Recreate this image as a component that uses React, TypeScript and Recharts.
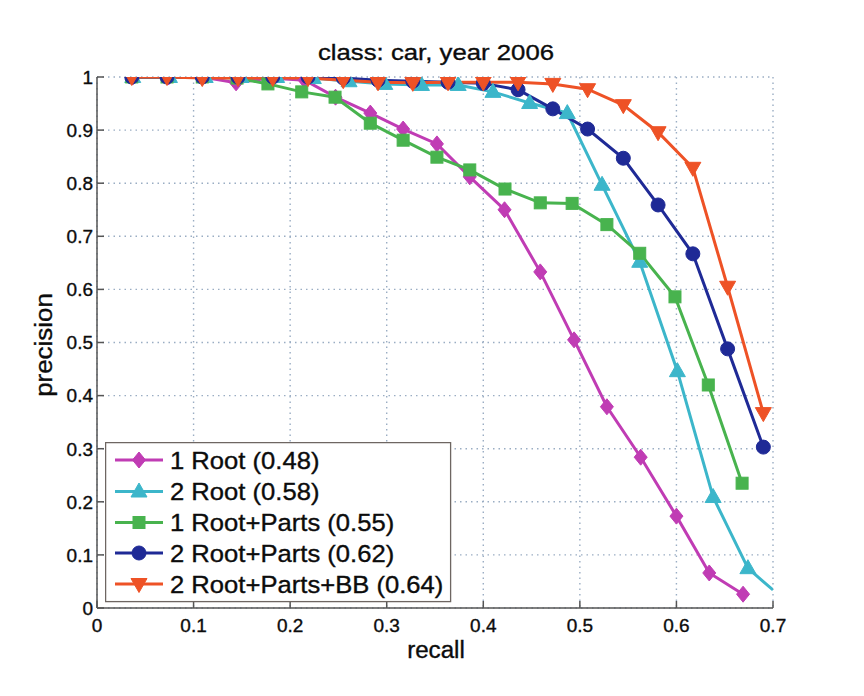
import React from 'react';
import { LineChart, Line, XAxis, YAxis, CartesianGrid, Legend } from 'recharts';

const FONT = '"Liberation Sans", Arial, Helvetica, sans-serif';

// ---- data ----
const seriesNames = [
  '1 Root (0.48)',
  '2 Root (0.58)',
  '1 Root+Parts (0.55)',
  '2 Root+Parts (0.62)',
  '2 Root+Parts+BB (0.64)',
];
const seriesColors = ['#c03cb4', '#3cb6ca', '#48b34e', '#1f2a96', '#ee5226'];
const seriesShapes = ['diamond', 'triangle', 'square', 'circle', 'triangleDown'];

const root1Recall = [0.037, 0.074, 0.109, 0.144, 0.179, 0.215, 0.247, 0.283, 0.317, 0.352, 0.386, 0.422, 0.459, 0.494, 0.528, 0.563, 0.600, 0.634, 0.669];
const root1Precision = [1, 1, 1, 0.989, 0.998, 0.994, 0.962, 0.932, 0.902, 0.874, 0.812, 0.75, 0.633, 0.505, 0.379, 0.284, 0.173, 0.066, 0.026];

const root2Recall = [0.037, 0.075, 0.112, 0.149, 0.186, 0.224, 0.261, 0.298, 0.336, 0.374, 0.410, 0.448, 0.487, 0.523, 0.562, 0.601, 0.638, 0.674, 0.700];
const root2Precision = [1, 1, 1, 1, 1, 0.998, 0.992, 0.987, 0.985, 0.985, 0.972, 0.951, 0.932, 0.797, 0.652, 0.446, 0.209, 0.075, 0.034];
const root2Unmarked = [18];

const root1PartsRecall = [0.036, 0.0725, 0.109, 0.145, 0.177, 0.212, 0.2465, 0.283, 0.317, 0.352, 0.386, 0.4225, 0.459, 0.492, 0.528, 0.562, 0.5985, 0.633, 0.668];
const root1PartsPrecision = [1, 1, 1, 0.998, 0.987, 0.972, 0.962, 0.913, 0.881, 0.849, 0.825, 0.789, 0.763, 0.762, 0.722, 0.668, 0.586, 0.42, 0.235];

const root2PartsRecall = [0.036, 0.0725, 0.109, 0.146, 0.182, 0.2185, 0.255, 0.291, 0.327, 0.3635, 0.400, 0.436, 0.472, 0.508, 0.545, 0.581, 0.617, 0.653, 0.690];
const root2PartsPrecision = [1, 1, 1, 1, 1, 1, 0.998, 0.994, 0.992, 0.99, 0.988, 0.976, 0.94, 0.902, 0.847, 0.759, 0.667, 0.488, 0.303];

const root2PartsBBRecall = [0.036, 0.0725, 0.109, 0.146, 0.182, 0.2185, 0.255, 0.291, 0.327, 0.3635, 0.400, 0.436, 0.472, 0.508, 0.545, 0.581, 0.617, 0.653, 0.690];
const root2PartsBBPrecision = [1, 1, 0.998, 0.998, 0.998, 0.998, 0.994, 0.99, 0.989, 0.99, 0.99, 0.99, 0.987, 0.977, 0.947, 0.896, 0.829, 0.605, 0.367];

const xTicks = [0, 0.1, 0.2, 0.3, 0.4, 0.5, 0.6, 0.7];
const yTicks = [0, 0.1, 0.2, 0.3, 0.4, 0.5, 0.6, 0.7, 0.8, 0.9, 1];

const titleText = 'class: car, year 2006';
const xLabel = 'recall';
const yLabel = 'precision';

type Pt = { recall: number; precision: number; noMark?: boolean };
const build = (r: number[], p: number[], unmarked: number[] = []): Pt[] =>
  r.map((v, i) => ({ recall: v, precision: p[i], noMark: unmarked.includes(i) }));

const seriesData: Pt[][] = [
  build(root1Recall, root1Precision),
  build(root2Recall, root2Precision, root2Unmarked),
  build(root1PartsRecall, root1PartsPrecision),
  build(root2PartsRecall, root2PartsPrecision),
  build(root2PartsBBRecall, root2PartsBBPrecision),
];

// ---- helpers ----
const SText = ({ x, y, size, anchor = 'start', sx = 1, rotate = 0, children }: any) => (
  <text
    transform={`translate(${x},${y}) rotate(${rotate}) scale(${sx},1)`}
    fontSize={size}
    fontFamily={FONT}
    textAnchor={anchor}
    fill="#0c0c0c"
    stroke="#0c0c0c"
    strokeWidth={0.35}
  >
    {children}
  </text>
);

const Marker = ({ shape, cx, cy, color }: any) => {
  switch (shape) {
    case 'diamond':
      return <polygon points={`${cx},${cy - 8} ${cx + 6.5},${cy} ${cx},${cy + 8} ${cx - 6.5},${cy}`} fill={color} stroke={color} strokeWidth={1} />;
    case 'triangle':
      return <polygon points={`${cx},${cy - 8.5} ${cx + 8},${cy + 5.5} ${cx - 8},${cy + 5.5}`} fill={color} stroke={color} strokeWidth={1} />;
    case 'triangleDown':
      return <polygon points={`${cx - 8},${cy - 5.5} ${cx + 8},${cy - 5.5} ${cx},${cy + 8.5}`} fill={color} stroke={color} strokeWidth={1} />;
    case 'square':
      return <rect x={cx - 6} y={cy - 6} width={12} height={12} fill={color} stroke={color} strokeWidth={1} />;
    default:
      return <circle cx={cx} cy={cy} r={7} fill={color} stroke={color} strokeWidth={1} />;
  }
};

const makeDot = (shape: string, color: string, s: number) => (props: any) => {
  const { cx, cy, index, payload } = props;
  if (cx == null || cy == null || (payload && payload.noMark)) return <g key={`n${s}-${index}`} />;
  return (
    <g key={`d${s}-${index}`}>
      <Marker shape={shape} cx={cx} cy={cy} color={color} />
    </g>
  );
};

const YTick = (props: any) => {
  const { x, y, payload } = props;
  return <SText x={x} y={y + 6.8} size={19} anchor="end">{String(payload.value)}</SText>;
};
const XTick = (props: any) => {
  const { x, y, payload } = props;
  return <SText x={x} y={y + 14} size={19} anchor="middle">{String(payload.value)}</SText>;
};

const legendRowY = [18, 49.5, 80.5, 111, 142];

const renderLegend = () => (
  <svg width={347} height={161} style={{ display: 'block' }}>
    <rect x={0.6} y={0.6} width={345} height={159} fill="#ffffff" stroke="#6e6662" strokeWidth={1.3} />
    {seriesNames.map((n, i) => {
      const cy = legendRowY[i];
      return (
        <g key={n}>
          <line x1={10} x2={58} y1={cy} y2={cy} stroke={seriesColors[i]} strokeWidth={3} />
          <Marker shape={seriesShapes[i]} cx={34} cy={cy} color={seriesColors[i]} />
          <SText x={65} y={cy + 8.5} size={23.5} sx={1.09}>{n}</SText>
        </g>
      );
    })}
  </svg>
);

export default function App() {
  return (
    <div style={{ position: 'absolute', left: 0, top: 0, width: 864, height: 696, background: '#fff' }}>
      <LineChart width={864} height={696} margin={{ top: 77, right: 91, bottom: 48, left: 37 }}>
        <CartesianGrid
          stroke="#9aadc3"
          strokeDasharray="1.5 4"
          strokeWidth={1.4}
          horizontalValues={yTicks}
          verticalValues={xTicks}
        />
        <XAxis
          type="number"
          dataKey="recall"
          domain={[0, 0.7]}
          ticks={xTicks}
          allowDataOverflow
          height={40}
          stroke="#555"
          strokeWidth={1.5}
          tickSize={-7}
          tickMargin={17}
          tick={<XTick />}
          interval={0}
        />
        <YAxis
          type="number"
          dataKey="precision"
          domain={[0, 1]}
          ticks={yTicks}
          allowDataOverflow
          width={60}
          stroke="#555"
          strokeWidth={1.5}
          tickSize={-7}
          tickMargin={11}
          tick={<YTick />}
          interval={0}
        />
        <Legend
          content={renderLegend}
          layout="vertical"
          align="center"
          verticalAlign="middle"
          wrapperStyle={{ position: 'absolute', left: 105, top: 442, width: 347, height: 161 }}
        />
        {seriesData.map((d, i) => (
          <Line
            key={seriesNames[i]}
            data={d}
            dataKey="precision"
            name={seriesNames[i]}
            type="linear"
            stroke={seriesColors[i]}
            strokeWidth={3}
            dot={makeDot(seriesShapes[i], seriesColors[i], i)}
            activeDot={false}
            isAnimationActive={false}
          />
        ))}
      </LineChart>
      <svg width={864} height={696} style={{ position: 'absolute', left: 0, top: 0, pointerEvents: 'none' }}>
        <SText x={436} y={60} size={23} sx={1.12} anchor="middle">{titleText}</SText>
        <SText x={436} y={658} size={23} sx={1.05} anchor="middle">{xLabel}</SText>
        <SText x={52} y={345} size={24} sx={1.08} anchor="middle" rotate={-90}>{yLabel}</SText>
      </svg>
    </div>
  );
}
